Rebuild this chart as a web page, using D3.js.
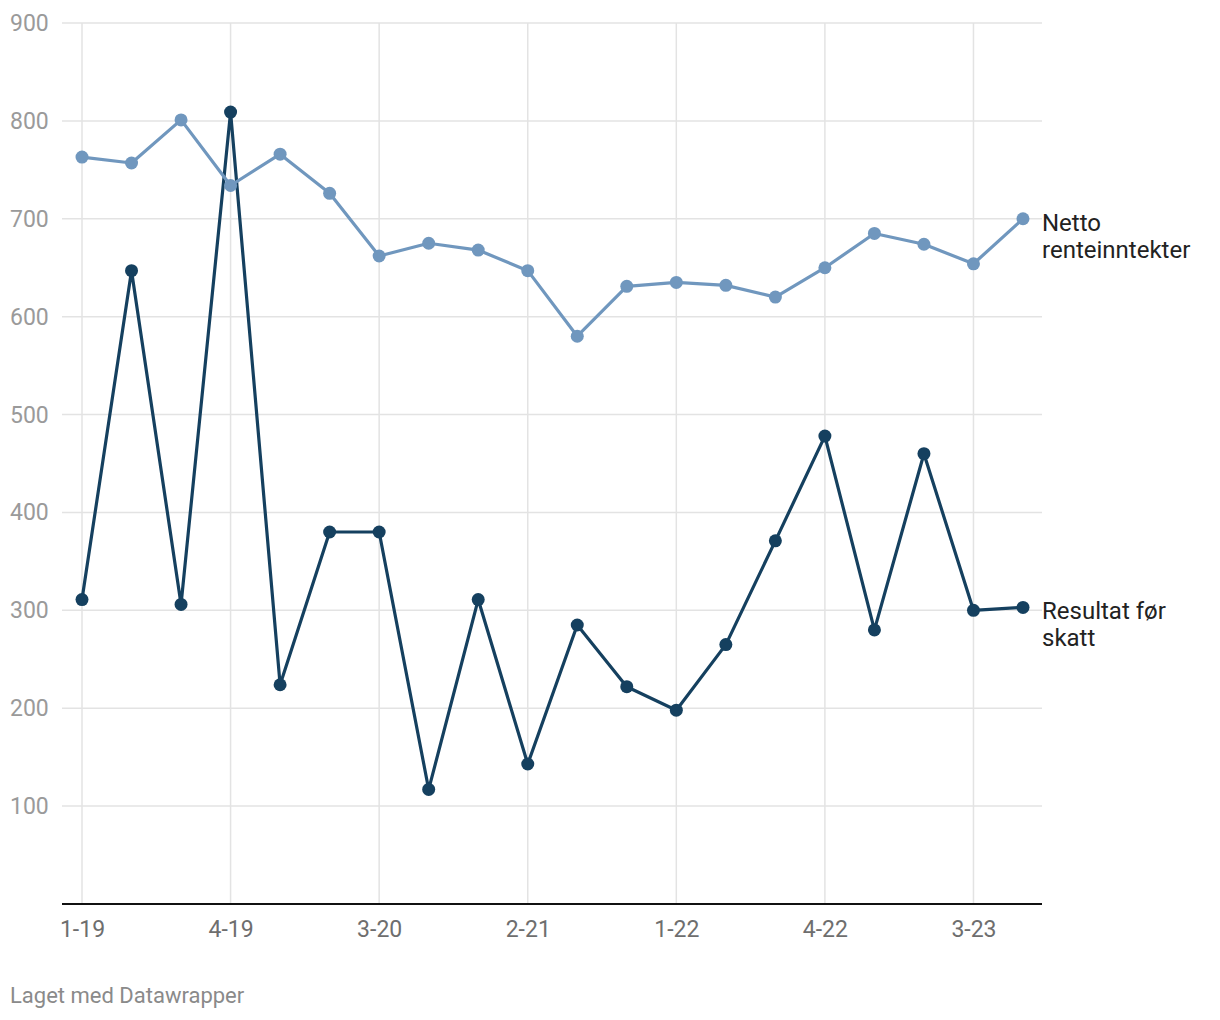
<!DOCTYPE html>
<html><head><meta charset="utf-8">
<script src="https://cdn.jsdelivr.net/npm/d3@7"></script>
<style>
body{margin:0;background:#fff;}
svg text{font-family:Roboto,"Noto Sans",sans-serif;}
</style></head>
<body><svg id="c" width="1220" height="1020"></svg>
<script>
const quarters = ["1-19","2-19","3-19","4-19","1-20","2-20","3-20","4-20","1-21","2-21","3-21","4-21","1-22","2-22","3-22","4-22","1-23","2-23","3-23","4-23"];
const tickLabels = ["1-19","4-19","3-20","2-21","1-22","4-22","3-23"];
const yTicks = [100,200,300,400,500,600,700,800,900];
const netto = [763,757,801,734,766,726,662,675,668,647,580,631,635,632,620,650,685,674,654,700];
const resultat = [311,647,306,809,224,380,380,117,311,143,285,222,198,265,371,478,280,460,300,303];
const seriesNames = ["Netto\nrenteinntekter","Resultat før\nskatt"];

const svg = d3.select("#c");
const x = d3.scalePoint().domain(quarters).range([82,1023]);
const y = d3.scaleLinear().domain([0,900]).range([904,23]);

// horizontal grid
svg.append("g").selectAll("line").data(yTicks).join("line")
  .attr("x1",62).attr("x2",1042).attr("y1",d=>y(d)).attr("y2",d=>y(d))
  .attr("stroke","#e3e3e3").attr("stroke-width",1.5);
svg.append("g").selectAll("text").data(yTicks).join("text")
  .attr("x",10).attr("y",d=>y(d)+8).attr("fill","#9a9a9a")
  .attr("font-size",23).text(d=>d);
// vertical grid
svg.append("g").selectAll("line").data(tickLabels).join("line")
  .attr("x1",d=>x(d)).attr("x2",d=>x(d)).attr("y1",y(900)).attr("y2",904)
  .attr("stroke","#e3e3e3").attr("stroke-width",1.5);
// x axis
const xAxis = d3.axisBottom(x).tickValues(tickLabels).tickSize(0).tickPadding(0);
const gx = svg.append("g").attr("transform","translate(0,904)").call(xAxis);
gx.attr("font-family",null);
gx.select(".domain").remove();
gx.selectAll("text").attr("dy",null).attr("y",33).attr("font-size",23).attr("fill","#6e6e6e");
svg.append("line").attr("x1",62).attr("x2",1042).attr("y1",904).attr("y2",904)
  .attr("stroke","#111").attr("stroke-width",2);

const line = d3.line().x((d,i)=>x(quarters[i])).y(d=>y(d));
function drawSeries(vals,color){
  svg.append("path").datum(vals).attr("d",line).attr("fill","none")
    .attr("stroke",color).attr("stroke-width",3.2).attr("stroke-linejoin","round");
  svg.append("g").selectAll("circle").data(vals).join("circle")
    .attr("cx",(d,i)=>x(quarters[i])).attr("cy",d=>y(d)).attr("r",6.5).attr("fill",color);
}
drawSeries(resultat,"#15405f");
drawSeries(netto,"#7097be");

function label(name,val){
  const t = svg.append("text").attr("x",1042).attr("y",y(val)+12).attr("font-size",24).attr("fill","#222");
  name.split("\n").forEach((s,i)=>t.append("tspan").attr("x",1042).attr("dy",i?27:0).text(s));
}
label(seriesNames[0],netto[netto.length-1]);
label(seriesNames[1],resultat[resultat.length-1]);

svg.append("text").attr("x",10).attr("y",1003).attr("font-size",22).attr("fill","#8a8a8a").text("Laget med Datawrapper");
</script></body></html>
